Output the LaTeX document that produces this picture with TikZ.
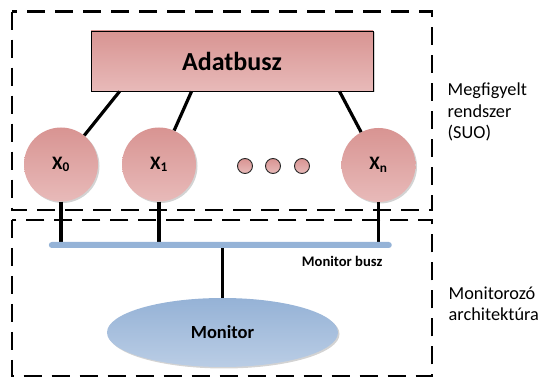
\documentclass[tikz,border=0pt]{standalone}
\usepackage{fontspec}
\setmainfont{Carlito}
\usetikzlibrary{shapes.geometric,shadows,calc}
\definecolor{pinkT}{RGB}{216,148,146}
\definecolor{pinkB}{RGB}{232,186,185}
\definecolor{blueT}{RGB}{149,178,214}
\definecolor{blueB}{RGB}{186,205,229}
\definecolor{busblue}{RGB}{149,179,215}
\begin{document}
\begin{tikzpicture}[x=1pt,y=1pt,
  frame/.style={draw, line width=2.4pt, dash pattern=on 18pt off 10pt},
  conn/.style={line width=3.2pt},
  shad/.style={drop shadow={shadow xshift=1.5pt, shadow yshift=-1.5pt, opacity=0.35}},
  proc/.style={circle, minimum size=74pt, inner sep=0pt, top color=pinkT, bottom color=pinkB, shad,
    font=\fontsize{19}{22}\selectfont\bfseries},
  dotc/.style={circle, minimum size=15pt, inner sep=0pt, draw=black!85, line width=0.9pt,
    top color=pinkT, bottom color=pinkB},
  side/.style={anchor=base west, inner sep=0pt, font=\fontsize{18.3}{22}\selectfont}
]
\useasboundingbox (0,0) rectangle (544,-379);

% dashed frames
\draw[frame] (11.7,-11.7) rectangle (432,-210);
\draw[frame] (11.7,-220) rectangle (432,-376);

% data bus
\node[draw=black, line width=0.9pt, minimum width=282pt, minimum height=60pt, inner sep=0pt,
  top color=pinkT, bottom color=pinkB, shad,
  font=\fontsize{26}{30}\selectfont\bfseries] (adat) at (232,-61) {Adatbusz};

% processes
\node[proc] (x0) at (61,-164.5) {X\textsubscript{0}};
\node[proc] (x1) at (159,-164.5) {X\textsubscript{1}};
\node[proc] (xn) at (378.5,-165) {X\textsubscript{n}};

\node[dotc] (d1) at (245,-166) {};
\node[dotc] (d2) at (273,-166) {};
\node[dotc] (d3) at (302,-166) {};

% connection points on the data bus
\coordinate (a0) at ([xshift=29pt]adat.south west);
\coordinate (a1) at ([xshift=101pt]adat.south west);
\coordinate (an) at ([xshift=249pt]adat.south west);
\draw[conn] (a0) -- (x0);
\draw[conn] (a1) -- (x1);
\draw[conn] (an) -- (xn);

% monitor bus
\coordinate (busc) at (220.3,-245);
\draw[conn] (x0.south) -- (x0.south |- busc);
\draw[conn] (x1.south) -- (x1.south |- busc);
\draw[conn] (xn.south) -- (xn.south |- busc);

\node[rectangle, minimum width=343pt, minimum height=6pt, inner sep=0pt, rounded corners=3pt,
  fill=busblue] (bus) at (busc) {};

\node[anchor=base west, inner sep=0pt, font=\fontsize{14.6}{17}\selectfont\bfseries] (buslbl)
  at (301.7,-266.7) {Monitor busz};

% monitor
\node[ellipse, minimum width=231pt, minimum height=69pt, inner sep=0pt,
  top color=blueT, bottom color=blueB, shad,
  font=\fontsize{18.5}{22}\selectfont\bfseries] (mon) at (222.5,-332.5) {Monitor};
\draw[conn] (mon.north |- bus.south) -- (mon.north);

% side labels
\node[side] (s1) at (447.5,-95.7) {Megfigyelt};
\node[side] (s2) at (447.5,-117.2) {rendszer};
\node[side] (s3) at (447.5,-138.7) {(SUO)};
\node[side] (m1) at (448.5,-300) {Monitorozó};
\node[side] (m2) at (448.5,-321) {architektúra};
\end{tikzpicture}
\end{document}
